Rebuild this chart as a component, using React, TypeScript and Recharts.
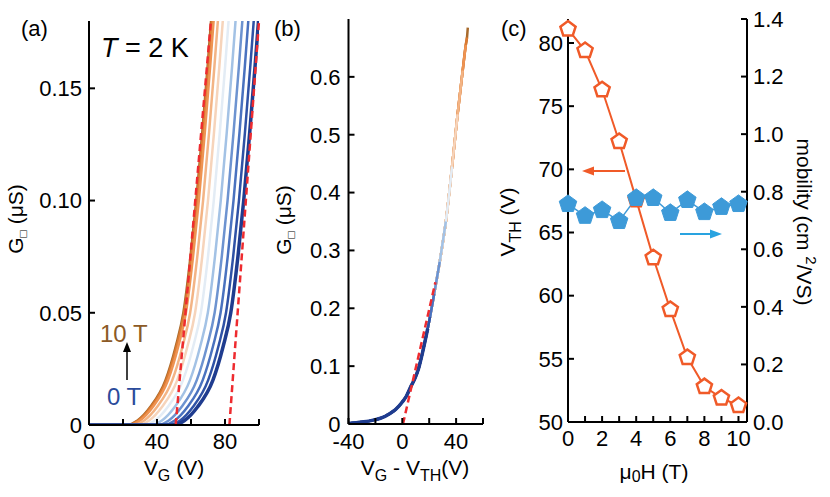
import React from 'react'
import { LineChart, Line, XAxis, YAxis, ReferenceLine } from 'recharts'

// magnetic field of each sweep (T), 0 T .. 10 T
const FIELDS = [0, 1, 2, 3, 4, 5, 6, 7, 8, 9, 10]
const FIELD_COLORS = [
  '#1f3c8f', '#2f52a6', '#4a72bf', '#6d93d0', '#a3c2e5', '#e3ecf5',
  '#f6d4bb', '#f3b485', '#ee9352', '#dc7a31', '#a86a2c',
]

// panel (a): sheet conductance levels (uS) and the gate voltage at which each sweep reaches them
const G_LEVELS = [0, 0, 0.002, 0.008, 0.02, 0.035, 0.05, 0.075, 0.1, 0.13, 0.16, 0.19]
const VG_0T = [0, 49.5, 56.2, 63.8, 72.9, 78.9, 83.4, 87.6, 91.0, 94.5, 97.7, 100.7]
const VG_1T = [0, 47.0, 53.6, 61.1, 70.1, 76.1, 80.6, 84.8, 88.2, 91.7, 94.9, 97.9]
const VG_2T = [0, 43.8, 50.4, 57.9, 66.9, 72.9, 77.4, 81.6, 85.0, 88.5, 91.7, 94.7]
const VG_3T = [0, 40.3, 46.9, 54.4, 63.4, 69.4, 73.9, 78.1, 81.5, 85.0, 88.2, 91.2]
const VG_4T = [0, 36.4, 42.9, 50.4, 59.4, 65.4, 69.9, 74.1, 77.5, 81.0, 84.2, 87.2]
const VG_5T = [0, 32.3, 38.8, 46.3, 55.3, 61.3, 65.8, 70.0, 73.4, 76.9, 80.1, 83.1]
const VG_6T = [0, 28.9, 35.4, 42.9, 51.9, 57.9, 62.4, 66.6, 70.0, 73.5, 76.7, 79.7]
const VG_7T = [0, 26.0, 32.5, 40.0, 49.0, 55.0, 59.5, 63.7, 67.1, 70.6, 73.8, 76.8]
const VG_8T = [0, 23.6, 30.0, 37.5, 46.5, 52.5, 57.0, 61.2, 64.6, 68.1, 71.3, 74.3]
const VG_9T = [0, 22.6, 29.0, 36.5, 45.5, 51.5, 56.0, 60.2, 63.6, 67.1, 70.3, 73.3]
const VG_10T = [0, 22.0, 28.5, 36.0, 45.0, 51.0, 55.5, 59.7, 63.1, 66.6, 69.8, 72.8]
const VG_BY_FIELD = [VG_0T, VG_1T, VG_2T, VG_3T, VG_4T, VG_5T, VG_6T, VG_7T, VG_8T, VG_9T, VG_10T]

// panel (b): collapsed curve, G vs (VG - VTH)
const SHIFTED_X = [-40, -30, -25, -20, -15, -10, -5, 0, 3, 6, 9, 12, 15, 18.9, 20.6, 23.7, 27.8, 32.4, 37.0, 41.1, 44.9, 47.2, 48.1, 48.7]
const SHIFTED_G = [0.001, 0.0035, 0.005, 0.0075, 0.011, 0.017, 0.025, 0.038, 0.048, 0.063, 0.077, 0.095, 0.123, 0.165, 0.185, 0.225, 0.28, 0.35, 0.445, 0.535, 0.611, 0.655, 0.668, 0.685]

// panel (c)
const VTH = [81.1, 79.4, 76.3, 72.2, 67.6, 63.0, 58.9, 55.1, 52.8, 51.9, 51.3]
const MOBILITY = [0.757, 0.716, 0.736, 0.698, 0.778, 0.778, 0.726, 0.771, 0.729, 0.747, 0.757]

// linear fits drawn as red dashes
const FIT_A_LOW = [{ x: 51, y: 0 }, { x: 71.6, y: 0.179 }]
const FIT_A_HIGH = [{ x: 82.6, y: 0 }, { x: 100, y: 0.18 }]
const FIT_B = [{ x: 0.5, y: 0 }, { x: 24.6, y: 0.245 }]

const FONT = '"Liberation Sans", Arial, sans-serif'
const tickStyle = { fontSize: 22, fill: '#000', fontFamily: FONT }
const axisLine = { stroke: '#000', strokeWidth: 2 }
const RED = '#ee2b2f'
const ORANGE = '#f05a28'
const BLUE = '#3d9ad8'

const sweepsA = FIELDS.map((f, i) => ({
  field: f,
  data: G_LEVELS.map((g, k) => ({ v: VG_BY_FIELD[i][k], g })),
}))

const sweepsB = FIELDS.map((f, i) => ({
  field: f,
  data: SHIFTED_X.map((x, k) => ({ x, g: SHIFTED_G[k] })).filter((p) => p.x <= 100 - VTH[i] + 0.05),
}))

const vthData = FIELDS.map((f, i) => ({ h: f, vth: VTH[i] }))
const mobData = FIELDS.map((f, i) => ({ h: f, mob: MOBILITY[i] }))

const pentagon = (cx: number, cy: number, r: number) =>
  [0, 1, 2, 3, 4]
    .map((k) => {
      const a = -Math.PI / 2 + (k * 2 * Math.PI) / 5
      return `${cx + r * Math.cos(a)},${cy + r * Math.sin(a)}`
    })
    .join(' ')

const OpenPentagon = (p: any) => (
  <polygon key={`o${p.index}`} points={pentagon(p.cx, p.cy, 8)} fill="#fff" stroke={ORANGE} strokeWidth={2.5} />
)
const FilledPentagon = (p: any) => (
  <polygon key={`f${p.index}`} points={pentagon(p.cx, p.cy, 9.2)} fill={BLUE} stroke={BLUE} strokeWidth={1} />
)

const PanelA = () => (
  <LineChart width={280} height={497} margin={{ top: 21, right: 21, bottom: 42, left: 29 }}>
    <XAxis dataKey="v" type="number" domain={[0, 100]} ticks={[0, 20, 40, 60, 80, 100]} allowDataOverflow
      tickFormatter={(v) => (v % 40 === 0 ? String(v) : '')} height={30} tickSize={-6} tickMargin={14}
      tick={tickStyle} axisLine={axisLine} tickLine={axisLine} />
    <XAxis xAxisId="top" orientation="top" type="number" domain={[0, 100]} ticks={[0, 20, 40, 60, 80, 100]} allowDataOverflow
      height={0} tick={false} tickSize={-6} axisLine={axisLine} tickLine={axisLine} />
    <YAxis type="number" domain={[0, 0.18]} ticks={[0, 0.05, 0.1, 0.15]} allowDataOverflow
      tickFormatter={(v) => (v === 0 ? '0' : v.toFixed(2))} width={60} tickSize={-6} tickMargin={13}
      tick={tickStyle} axisLine={axisLine} tickLine={axisLine} />
    <YAxis yAxisId="r" orientation="right" type="number" domain={[0, 0.18]} ticks={[0, 0.05, 0.1, 0.15]} allowDataOverflow
      width={0} tick={false} tickSize={-6} axisLine={axisLine} tickLine={axisLine} />
    {[...sweepsA].reverse().map((s) => (
      <Line key={s.field} data={s.data} dataKey="g" type="monotone" stroke={FIELD_COLORS[s.field]}
        strokeWidth={s.field === 0 ? 3.5 : 2.5} dot={false} isAnimationActive={false} />
    ))}
    <ReferenceLine segment={FIT_A_LOW} stroke={RED} strokeWidth={2.5} strokeDasharray="7 4" />
    <ReferenceLine segment={FIT_A_HIGH} stroke={RED} strokeWidth={2.5} strokeDasharray="7 4" />
  </LineChart>
)

const PanelB = () => (
  <LineChart width={225} height={497} margin={{ top: 19, right: 12, bottom: 43, left: 18.5 }}>
    <XAxis dataKey="x" type="number" domain={[-40, 60]} ticks={[-40, -20, 0, 20, 40, 60]} allowDataOverflow
      tickFormatter={(v) => (v % 40 === 0 ? String(v) : '')} height={30} tickSize={-6} tickMargin={15}
      tick={tickStyle} axisLine={axisLine} tickLine={axisLine} />
    <XAxis xAxisId="top" orientation="top" type="number" domain={[-40, 60]} ticks={[-40, -20, 0, 20, 40, 60]} allowDataOverflow
      height={0} tick={false} tickSize={-6} axisLine={axisLine} tickLine={axisLine} />
    <YAxis type="number" domain={[0, 0.7]} ticks={[0, 0.1, 0.2, 0.3, 0.4, 0.5, 0.6]} allowDataOverflow
      tickFormatter={(v) => (v === 0 ? '0' : v.toFixed(1))} width={60} tickSize={-6} tickMargin={14}
      tick={tickStyle} axisLine={axisLine} tickLine={axisLine} />
    <YAxis yAxisId="r" orientation="right" type="number" domain={[0, 0.7]} ticks={[0, 0.1, 0.2, 0.3, 0.4, 0.5, 0.6]} allowDataOverflow
      width={0} tick={false} tickSize={-6} axisLine={axisLine} tickLine={axisLine} />
    {[...sweepsB].reverse().map((s) => (
      <Line key={s.field} data={s.data} dataKey="g" type="monotone" stroke={FIELD_COLORS[s.field]}
        strokeWidth={s.field === 0 ? 3.5 : 2.5} dot={false} isAnimationActive={false} />
    ))}
    <ReferenceLine segment={FIT_B} stroke={RED} strokeWidth={2.5} strokeDasharray="7 4" />
  </LineChart>
)

const PanelC = () => (
  <LineChart width={330} height={497} margin={{ top: 19, right: 23, bottom: 45, left: 18 }}>
    <XAxis dataKey="h" type="number" domain={[0, 10.5]} ticks={FIELDS}
      tickFormatter={(v) => (v % 2 === 0 ? String(v) : '')} height={30} tickSize={-6} tickMargin={14}
      tick={tickStyle} axisLine={axisLine} tickLine={axisLine} />
    <XAxis xAxisId="top" orientation="top" type="number" domain={[0, 10.5]} ticks={FIELDS} allowDataOverflow
      height={0} tick={false} tickSize={-6} axisLine={axisLine} tickLine={axisLine} />
    <YAxis yAxisId="left" type="number" domain={[50, 81.9]} ticks={[50, 55, 60, 65, 70, 75, 80]} allowDataOverflow
      width={50} tickSize={-6} tickMargin={11} tick={tickStyle} axisLine={axisLine} tickLine={axisLine} />
    <YAxis yAxisId="right" orientation="right" type="number" domain={[0, 1.4]} ticks={[0, 0.2, 0.4, 0.6, 0.8, 1.0, 1.2, 1.4]}
      allowDataOverflow tickFormatter={(v) => v.toFixed(1)} width={60} tickSize={-6} tickMargin={12}
      tick={tickStyle} axisLine={axisLine} tickLine={axisLine} />
    <Line yAxisId="left" data={vthData} dataKey="vth" type="linear" stroke={ORANGE} strokeWidth={2}
      dot={OpenPentagon} isAnimationActive={false} />
    <Line yAxisId="right" data={mobData} dataKey="mob" type="linear" stroke={BLUE} strokeWidth={1.5}
      dot={FilledPentagon} isAnimationActive={false} />
  </LineChart>
)

const Overlay = () => (
  <svg width={830} height={497} style={{ position: 'absolute', left: 0, top: 0, pointerEvents: 'none' }}
    fontFamily={FONT} fill="#000">
    {/* panel letters */}
    <text x={21} y={36} fontSize={22}>(a)</text>
    <text x={274} y={36} fontSize={22}>(b)</text>
    <text x={501} y={36} fontSize={22}>(c)</text>

    {/* panel (a) */}
    <text x={101} y={57} fontSize={27}><tspan fontStyle="italic">T</tspan> = 2 K</text>
    <text x={100} y={342} fontSize={24} fill="#8c5a26">10 T</text>
    <text x={107} y={405} fontSize={24} fill="#2b4b9b">0 T</text>
    <line x1={127} y1={380} x2={127} y2={351} stroke="#000" strokeWidth={1.5} />
    <polygon points="127,342 123,352 131,352" fill="#000" />
    <text x={174} y={475} fontSize={21} textAnchor="middle">V<tspan fontSize={16} dy={6}>G</tspan><tspan dy={-6}> (V)</tspan></text>
    <text x={23} y={219} fontSize={21} textAnchor="middle" transform="rotate(-90 23 219)">
      G<tspan fontSize={12} dy={4}>□</tspan><tspan dy={-4}> (μS)</tspan>
    </text>

    {/* panel (b) */}
    <text x={415} y={475} fontSize={21} textAnchor="middle">
      V<tspan fontSize={16} dy={6}>G</tspan><tspan dy={-6}> -  V</tspan><tspan fontSize={16} dy={6}>TH</tspan><tspan dy={-6}>(V)</tspan>
    </text>
    <text x={291} y={220} fontSize={21} textAnchor="middle" transform="rotate(-90 291 220)">
      G<tspan fontSize={12} dy={4}>□</tspan><tspan dy={-4}> (μS)</tspan>
    </text>

    {/* panel (c) */}
    <text x={654} y={479} fontSize={21} textAnchor="middle">μ<tspan fontSize={16} dy={3}>0</tspan><tspan dy={-3}>H (T)</tspan></text>
    <text x={515} y={222} fontSize={21} textAnchor="middle" transform="rotate(-90 515 222)">
      V<tspan fontSize={16} dy={6}>TH</tspan><tspan dy={-6}> (V)</tspan>
    </text>
    <text x={797} y={222} fontSize={21} textAnchor="middle" transform="rotate(90 797 222)">
      mobility (cm <tspan fontSize={15} dy={-9}>2</tspan><tspan dy={9}>/VS)</tspan>
    </text>
    <line x1={625} y1={171} x2={592} y2={171} stroke={ORANGE} strokeWidth={2} />
    <polygon points="582,171 594,166.5 594,175.5" fill={ORANGE} />
    <line x1={680} y1={234} x2={712} y2={234} stroke="#29a3e0" strokeWidth={2} />
    <polygon points="722,234 710,229.5 710,238.5" fill="#29a3e0" />
  </svg>
)

export default function App() {
  return (
    <div style={{ position: 'absolute', left: 0, top: 0, width: 830, height: 497, background: '#fff' }}>
      <div style={{ position: 'absolute', left: 0, top: 0 }}><PanelA /></div>
      <div style={{ position: 'absolute', left: 270, top: 0 }}><PanelB /></div>
      <div style={{ position: 'absolute', left: 500, top: 0 }}><PanelC /></div>
      <Overlay />
    </div>
  )
}
